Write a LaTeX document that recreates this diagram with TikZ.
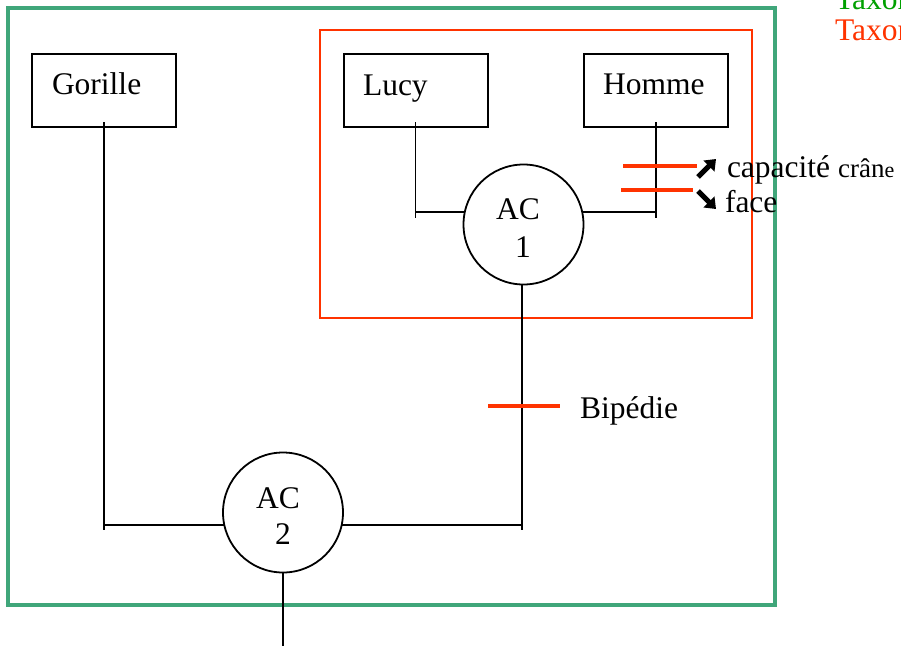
\documentclass[tikz,border=0pt]{standalone}
\usepackage{fontspec}
\setmainfont{Liberation Serif}
\usetikzlibrary{arrows.meta}
\definecolor{taxgreen}{RGB}{64,166,122}
\definecolor{taxred}{RGB}{255,51,0}
\definecolor{txtgreen}{RGB}{0,160,0}
\begin{document}
\begin{tikzpicture}[x=1pt,y=-1pt,
  every node/.style={inner sep=0pt,outer sep=0pt},
  box/.style={draw,line width=2pt,minimum width=144pt,minimum height=73pt},
  lbl/.style={font=\fontsize{31.5}{36}\selectfont,anchor=base west},
  ctr/.style={font=\fontsize{31.5}{36}\selectfont,anchor=base},
  acnode/.style={draw,circle,line width=1.8pt,minimum size=120pt},
  link/.style={line width=1.8pt},
  charbar/.style={taxred,line width=4.5pt},
  bigarrow/.style={line width=5pt,-{Triangle[length=10pt,width=15pt]}}]
\useasboundingbox (0,0) rectangle (901,646);
% frames
\draw[taxgreen,line width=4pt] (8,8) rectangle (775,605);
\draw[taxred,line width=2pt] (320,30) rectangle (752,318);
% top-right legend
\node[lbl,text=txtgreen] (tg) at (835,9) {Taxon};
\node[lbl,text=taxred] (tr) at (835,40) {Taxon};
% boxes
\node[box] (gor) at (104,90.5) {};
\node[lbl] (gort) at (52,94) {Gorille};
\node[box] (lucy) at (415.5,90.5) {};
\node[lbl] (lucyt) at (363,95) {Lucy};
\node[box] (hom) at (656,90.5) {};
\node[lbl] (homt) at (603,94) {Homme};
% ancestors
\node[acnode] (ac1) at (523.5,224.5) {};
\node[ctr] (ac1a) at (518,219) {AC};
\node[ctr] (ac1b) at (523,257) {1};
\node[acnode] (ac2) at (283,512.5) {};
\node[ctr] (ac2a) at (278,508) {AC};
\node[ctr] (ac2b) at (283,544) {2};
% coordinates for free ends
\coordinate (lucyend) at (lucy.south |- 0,218);
\coordinate (homend) at (hom.south |- 0,218);
\coordinate (gorend) at (gor.south |- 0,530);
\coordinate (rightend) at (522,530);
\coordinate (bottomend) at (283,646);
% connectors
\draw[link] ([yshift=5pt]lucy.south) -- (lucyend);
\draw[link] (lucy.south |- 0,212) -- (ac1.168);
\draw[link] ([yshift=5pt]hom.south) -- (homend);
\draw[link] (ac1.12) -- (hom.south |- 0,212);
\draw[link] ([yshift=5pt]gor.south) -- (gorend);
\draw[link] (gor.south |- 0,525) -- (ac2.192.5);
\draw[link] (ac2.-12.5) -- (522,525);
\draw[link] (ac1.south -| rightend) -- (rightend);
\draw[link] (ac2.south) -- (bottomend);
% characters
\coordinate (b1a) at (488,406); \coordinate (b1b) at (560,406);
\draw[charbar] (b1a) -- (b1b);
\node[lbl] (bip) at (580,418) {Bipédie};
\coordinate (b2a) at (623,166); \coordinate (b2b) at (697,166);
\draw[charbar] (b2a) -- (b2b);
\coordinate (b3a) at (621,190); \coordinate (b3b) at (693,190);
\draw[charbar] (b3a) -- (b3b);
\coordinate (a1s) at (698,177); \coordinate (a1e) at (716,159);
\draw[bigarrow] (a1s) -- (a1e);
\coordinate (a2s) at (698,191); \coordinate (a2e) at (716,209);
\draw[bigarrow] (a2s) -- (a2e);
\node[lbl] (cap) at (727,177) {capacité {\fontsize{27}{30}\selectfont crân}{\fontsize{22}{26}\selectfont e}};
\node[lbl] (face) at (725,212) {face};
\end{tikzpicture}
\end{document}
